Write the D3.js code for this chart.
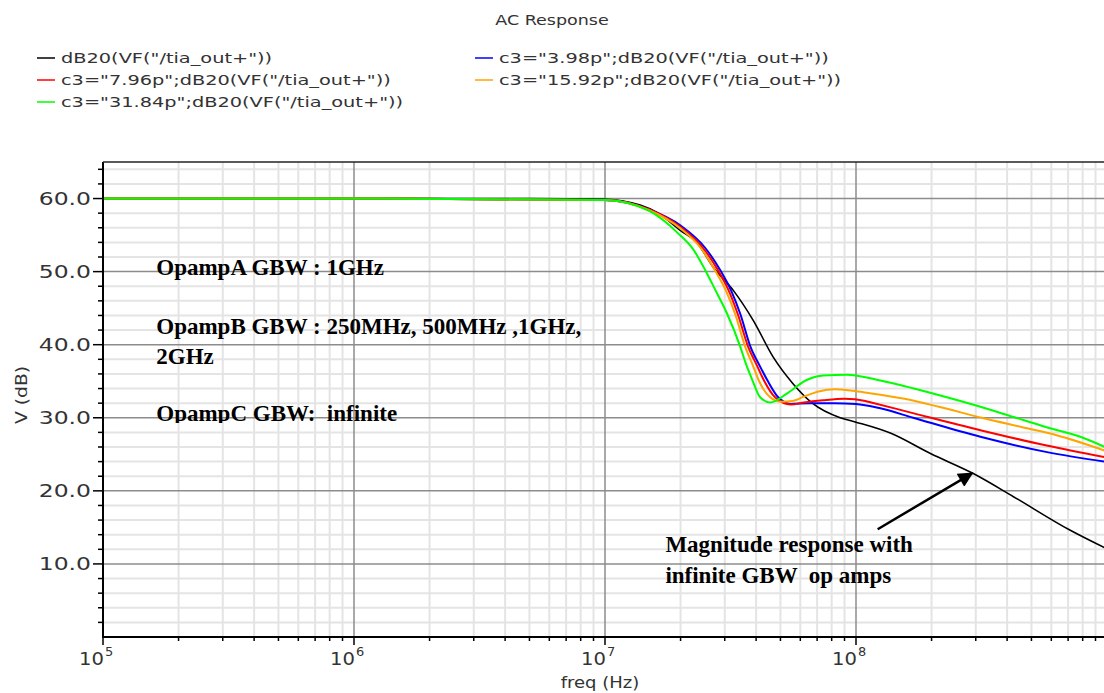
<!DOCTYPE html>
<html>
<head>
<meta charset="utf-8">
<script src="https://cdn.jsdelivr.net/npm/d3@7"></script>
<style>
  body { margin: 0; background: #fff; }
  svg { display: block; }
</style>
</head>
<body>
<svg width="1104" height="693"></svg>
<script>
// series: [freq Hz, dB]
const nominal = [[1e5,60],[1e6,60],[5e6,60],[1e7,59.9],[1.38e7,59.1],[1.61e7,58.1],[2.0e7,55.6],[2.32e7,54.0],[2.7e7,50.6],[3.25e7,47.4],[3.9e7,43.3],[4.68e7,38.3],[5.6e7,34.7],[6.7e7,32.0],[8.65e7,30.0],[1e8,29.4],[1.37e8,27.9],[1.98e8,25.1],[2.92e8,22.4],[4.24e8,19.2],[7.14e8,14.6],[9.8e8,12.2]];
const c398 = [[1e5,60],[1e6,60],[1e7,59.8],[1.5e7,58.5],[2.0e7,56.3],[2.5e7,53.3],[2.9e7,50.0],[3.2e7,47.2],[3.46e7,44.2],[3.8e7,39.7],[4.15e7,37.0],[4.44e7,35.1],[4.9e7,32.8],[5.5e7,31.9],[6.5e7,32.0],[8.2e7,32.0],[1.0e8,31.9],[1.25e8,31.3],[1.69e8,30.0],[3.13e8,27.4],[5.77e8,25.3],[9.8e8,24.0]];
const c796 = [[1e5,60],[1e6,60],[1e7,59.8],[1.5e7,58.5],[2.0e7,56.1],[2.45e7,53.3],[2.84e7,50.0],[3.13e7,47.2],[3.38e7,44.2],[3.72e7,39.7],[4.05e7,37.0],[4.3e7,35.1],[4.76e7,32.8],[5.5e7,31.8],[6.2e7,32.1],[7.4e7,32.4],[9.0e7,32.6],[1.09e8,32.3],[1.15e8,32.1],[1.7e8,30.6],[3.13e8,28.3],[5.75e8,26.2],[9.8e8,24.6]];
const c1592 = [[1e5,60],[1e6,60],[1e7,59.8],[1.5e7,58.4],[2.0e7,55.9],[2.4e7,53.3],[2.76e7,50.0],[3.05e7,47.2],[3.3e7,44.2],[3.62e7,39.7],[3.9e7,37.0],[4.1e7,35.1],[4.55e7,32.8],[5.0e7,32.2],[5.6e7,32.3],[6.3e7,33.0],[7.1e7,33.6],[8.2e7,33.9],[9.7e7,33.7],[1.12e8,33.4],[1.56e8,32.6],[2.14e8,31.5],[3.17e8,30.0],[4.6e8,28.7],[6.3e8,27.6],[9.8e8,25.5]];
const c3184 = [[1e5,60],[1e6,60],[1e7,59.8],[1.5e7,58.3],[1.96e7,55.2],[2.25e7,53.0],[2.5e7,50.3],[2.75e7,47.5],[3.06e7,44.3],[3.46e7,39.7],[3.65e7,37.3],[3.85e7,35.3],[4.15e7,32.8],[4.55e7,32.1],[5.3e7,33.3],[6.3e7,35.1],[7.4e7,35.8],[9.2e7,35.9],[1.25e8,35.1],[1.7e8,34.0],[2.3e8,32.8],[3.13e8,31.5],[4.24e8,30.1],[5.75e8,28.7],[7.83e8,27.4],[9.8e8,26.0]];

const legendLabels = [
  'dB20(VF("/tia_out+"))',
  'c3="3.98p";dB20(VF("/tia_out+"))',
  'c3="7.96p";dB20(VF("/tia_out+"))',
  'c3="15.92p";dB20(VF("/tia_out+"))',
  'c3="31.84p";dB20(VF("/tia_out+"))'
];
const decadeExps = [5, 6, 7, 8];
const yMajor = [10, 20, 30, 40, 50, 60];
const notes = ['OpampA GBW : 1GHz', 'OpampB GBW : 250MHz, 500MHz ,1GHz,', '2GHz', 'OpampC GBW:  infinite'];
const arrowNote = ['Magnitude response with', 'infinite GBW  op amps'];

const series = [nominal, c398, c796, c1592, c3184];
const colors = ['#000000', '#0000ff', '#ff0000', '#ffa500', '#00ff00'];

const svg = d3.select('svg');
const W = 1104, H = 693;
const pLeft = 103, pTop = 162, pBottom = 637;
const STRETCH = 1.38;

const x = d3.scaleLog().domain([1e5, 1e9]).range([pLeft, 1107]);
const y = d3.scaleLinear().domain([0, 65]).range([pBottom, pTop]);

// wide cadence-style font
function stretch(sel, k) {
  sel.each(function () {
    const w = this.getComputedTextLength();
    d3.select(this).attr('textLength', w * k).attr('lengthAdjust', 'spacingAndGlyphs');
  });
}

// grid
const minorX = [];
decadeExps.forEach(e => { for (let k = 2; k <= 9; k++) minorX.push(k * Math.pow(10, e)); });
const majorX = decadeExps.map(e => Math.pow(10, e)).concat([1e9]);
const minorY = d3.range(2, 65, 2).filter(v => v % 10 !== 0);

const grid = svg.append('g');
grid.selectAll('.gxm').data(minorX).join('line')
  .attr('x1', d => x(d)).attr('x2', d => x(d)).attr('y1', pTop).attr('y2', pBottom)
  .style('stroke', '#e4e4e4').style('stroke-width', 2);
grid.selectAll('.gym').data(minorY).join('line')
  .attr('x1', pLeft).attr('x2', W).attr('y1', d => y(d)).attr('y2', d => y(d))
  .style('stroke', '#e4e4e4').style('stroke-width', 2);
grid.selectAll('.gxM').data(majorX.slice(1)).join('line')
  .attr('x1', d => x(d)).attr('x2', d => x(d)).attr('y1', pTop).attr('y2', pBottom)
  .style('stroke', '#8c8c8c').style('stroke-width', 1.5);
grid.selectAll('.gyM').data(yMajor).join('line')
  .attr('x1', pLeft).attr('x2', W).attr('y1', d => y(d)).attr('y2', d => y(d))
  .style('stroke', '#8c8c8c').style('stroke-width', 1.5);

// curves
svg.append('clipPath').attr('id', 'plotclip')
  .append('rect').attr('x', pLeft).attr('y', pTop).attr('width', W - pLeft).attr('height', pBottom - pTop);

const line = d3.line().x(d => x(d[0])).y(d => y(d[1])).curve(d3.curveMonotoneX);
svg.append('g').attr('clip-path', 'url(#plotclip)')
  .selectAll('path').data(series).join('path')
  .attr('d', line)
  .style('fill', 'none')
  .style('stroke', (d, i) => colors[i])
  .style('stroke-width', (d, i) => i === 0 ? 1.6 : 2);

// axes frame
svg.append('line').attr('x1', pLeft).attr('x2', pLeft).attr('y1', pTop).attr('y2', pBottom + 1)
  .style('stroke', '#000').style('stroke-width', 2);
svg.append('line').attr('x1', pLeft).attr('x2', W).attr('y1', pBottom).attr('y2', pBottom)
  .style('stroke', '#000').style('stroke-width', 2);
svg.append('line').attr('x1', pLeft).attr('x2', W).attr('y1', pTop).attr('y2', pTop)
  .style('stroke', '#222').style('stroke-width', 1.5);

// y ticks
const yt = svg.append('g');
yt.selectAll('.ytm').data(minorY).join('line')
  .attr('x1', pLeft - 5).attr('x2', pLeft).attr('y1', d => y(d)).attr('y2', d => y(d))
  .style('stroke', '#000').style('stroke-width', 1.5);
yt.selectAll('.ytM').data(yMajor).join('line')
  .attr('x1', pLeft - 10).attr('x2', pLeft).attr('y1', d => y(d)).attr('y2', d => y(d))
  .style('stroke', '#000').style('stroke-width', 1.5);
yt.selectAll('text').data(yMajor).join('text')
  .attr('x', pLeft - 12).attr('y', d => y(d)).attr('dy', '0.36em')
  .attr('text-anchor', 'end')
  .style('font-family', 'DejaVu Sans, sans-serif').style('font-size', '17px').style('fill', '#333')
  .text(d => d.toFixed(1))
  .call(stretch, STRETCH);

// x ticks
const xt = svg.append('g');
xt.selectAll('.xtm').data(minorX).join('line')
  .attr('x1', d => x(d)).attr('x2', d => x(d)).attr('y1', pBottom).attr('y2', pBottom + 4)
  .style('stroke', '#000').style('stroke-width', 1.5);
xt.selectAll('.xtM').data(majorX.slice(0, 4)).join('line')
  .attr('x1', d => x(d)).attr('x2', d => x(d)).attr('y1', pBottom).attr('y2', pBottom + 8)
  .style('stroke', '#000').style('stroke-width', 1.5);
xt.selectAll('.xl').data(decadeExps).join('text')
  .attr('x', d => x(Math.pow(10, d)) + 1).attr('y', 665)
  .attr('text-anchor', 'end')
  .style('font-family', 'DejaVu Sans, sans-serif').style('font-size', '17px').style('fill', '#333')
  .text('10')
  .call(stretch, 1.15);
xt.selectAll('.xe').data(decadeExps).join('text')
  .attr('x', d => x(Math.pow(10, d)) + 2).attr('y', 656)
  .style('font-family', 'DejaVu Sans, sans-serif').style('font-size', '13px').style('fill', '#333')
  .text(d => d);

// axis titles
svg.append('text').attr('x', 600).attr('y', 688).attr('text-anchor', 'middle')
  .style('font-family', 'DejaVu Sans, sans-serif').style('font-size', '15px').style('fill', '#333')
  .text('freq (Hz)').call(stretch, 1.2);
svg.append('text').attr('transform', 'translate(27,395) rotate(-90)').attr('text-anchor', 'middle')
  .style('font-family', 'DejaVu Sans, sans-serif').style('font-size', '15px').style('fill', '#333')
  .text('V (dB)').call(stretch, 1.25);

// title
svg.append('text').attr('x', 552).attr('y', 25).attr('text-anchor', 'middle')
  .style('font-family', 'DejaVu Sans, sans-serif').style('font-size', '14px').style('fill', '#333')
  .text('AC Response').call(stretch, 1.25);

// legend: two columns, order by row
const legPos = [[37, 58], [475, 58], [37, 80], [475, 80], [37, 102]];
const leg = svg.append('g').selectAll('g').data(legendLabels).join('g')
  .attr('transform', (d, i) => `translate(${legPos[i][0]},${legPos[i][1]})`);
leg.append('line').attr('x1', 0).attr('x2', 18).attr('y1', 0).attr('y2', 0)
  .style('stroke', (d, i) => colors[i]).style('stroke-width', 1.5);
leg.append('text').attr('x', 24).attr('dy', '0.36em')
  .style('font-family', 'DejaVu Sans, sans-serif').style('font-size', '14px').style('fill', '#333')
  .text(d => d)
  .call(stretch, STRETCH);

// annotations
svg.append('clipPath').attr('id', 'noteclip')
  .append('rect').attr('x', 0).attr('y', 0).attr('width', W).attr('height', 423);
const noteY = [49.6, 41.5, 37.3, 29.6];
svg.append('g').attr('clip-path', 'url(#noteclip)')
  .selectAll('text').data(notes).join('text')
  .attr('x', x(1.63e5)).attr('y', (d, i) => y(noteY[i]))
  .style('font-family', 'Liberation Serif, Times New Roman, serif')
  .style('font-weight', 'bold').style('font-size', '23px').style('fill', '#000')
  .style('white-space', 'pre')
  .text(d => d);

const arrowY = [11.7, 7.4];
svg.append('g').selectAll('text').data(arrowNote).join('text')
  .attr('x', x(1.74e7)).attr('y', (d, i) => y(arrowY[i]))
  .style('font-family', 'Liberation Serif, Times New Roman, serif')
  .style('font-weight', 'bold').style('font-size', '23px').style('fill', '#000')
  .style('white-space', 'pre')
  .text(d => d);

// arrow pointing at the infinite-GBW curve
svg.append('defs').append('marker').attr('id', 'head')
  .attr('viewBox', '0 0 10 10').attr('refX', 9).attr('refY', 5)
  .attr('markerWidth', 7).attr('markerHeight', 6).attr('orient', 'auto')
  .append('path').attr('d', 'M0,0 L10,5 L0,10 z').style('fill', '#000');
const tail = [1.22e8, 14.75], tip = [2.9e8, 22.4];
svg.append('line')
  .attr('x1', x(tail[0])).attr('y1', y(tail[1]))
  .attr('x2', x(tip[0])).attr('y2', y(tip[1]))
  .style('stroke', '#000').style('stroke-width', 2.5)
  .attr('marker-end', 'url(#head)');
</script>
</body>
</html>
